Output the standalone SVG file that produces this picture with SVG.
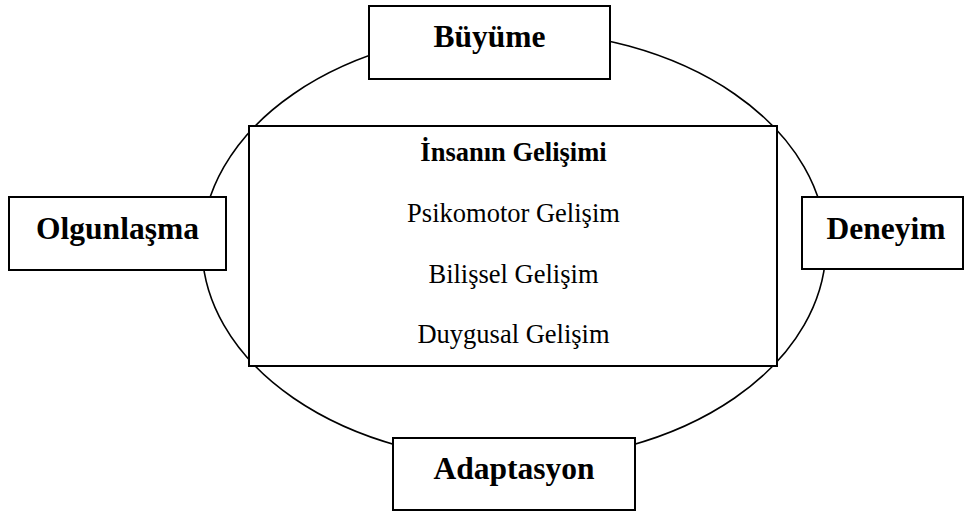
<svg xmlns="http://www.w3.org/2000/svg" width="965" height="513" viewBox="0 0 965 513">
  <style>
    .box { fill: #ffffff; stroke: #000000; stroke-width: 2; }
    .ring { fill: none; stroke: #000000; stroke-width: 1.6; }
    .lbl { font-family: "Liberation Serif", "Times New Roman", serif; font-weight: bold; font-size: 31.5px; fill: #000000; text-anchor: middle; }
    .inner { font-family: "Liberation Serif", "Times New Roman", serif; font-size: 26.5px; fill: #000000; text-anchor: middle; }
    .inner-b { font-weight: bold; }
  </style>
  <rect width="965" height="513" fill="#ffffff"/>
  <g id="connectors">
    <ellipse class="ring" cx="514" cy="246" rx="312" ry="215"/>
  </g>
  <g id="center">
    <rect class="box" x="249" y="126" width="528" height="240"/>
    <text class="inner inner-b" x="513.5" y="161">İnsanın Gelişimi</text>
    <text class="inner" x="513.5" y="222">Psikomotor Gelişim</text>
    <text class="inner" x="513.5" y="283">Bilişsel Gelişim</text>
    <text class="inner" x="513.5" y="343">Duygusal Gelişim</text>
  </g>
  <g id="buyume">
    <rect class="box" x="369" y="6" width="241" height="73"/>
    <text class="lbl" x="489.5" y="47">Büyüme</text>
  </g>
  <g id="olgunlasma">
    <rect class="box" x="9" y="197" width="217" height="73"/>
    <text class="lbl" x="117.5" y="239">Olgunlaşma</text>
  </g>
  <g id="deneyim">
    <rect class="box" x="802" y="197" width="161" height="72"/>
    <text class="lbl" x="886" y="239">Deneyim</text>
  </g>
  <g id="adaptasyon">
    <rect class="box" x="393" y="438" width="242" height="72"/>
    <text class="lbl" x="514" y="479">Adaptasyon</text>
  </g>
</svg>
